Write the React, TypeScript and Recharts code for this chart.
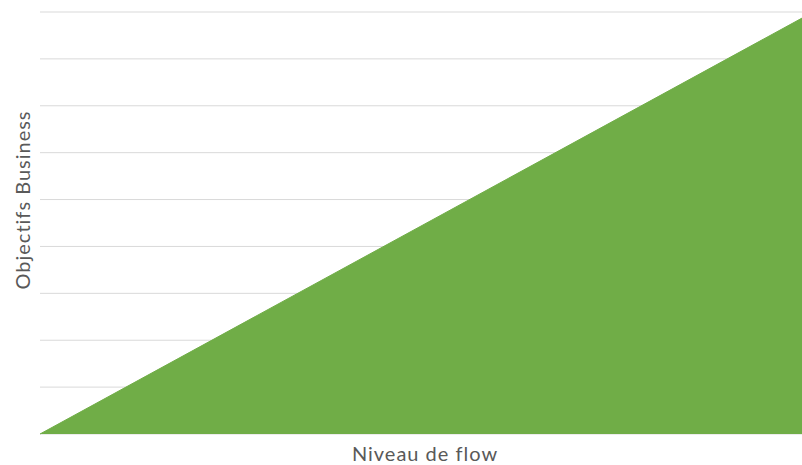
import React from "react";
import { AreaChart, Area, XAxis, YAxis, CartesianGrid } from "recharts";

const flowLevels = [0, 1];
const businessGoals = [0, 8.87];
const yTicks = [0, 1, 2, 3, 4, 5, 6, 7, 8, 9];
const xTitle = "Niveau de flow";
const yTitle = "Objectifs Business";

const data = flowLevels.map((x, i) => ({ x, y: businessGoals[i] }));

const FONT = "Lato, 'Open Sans', sans-serif";
const TEXT_COLOR = "#595959";
const FONT_SIZE = 20;
const LETTER_SPACING = 1;

const NoTick = () => <g />;

const YTitle = (props: any) => {
  const vb = props.viewBox || {};
  const cx = vb.x + 22;
  const cy = vb.y + vb.height / 2 - 23;
  return (
    <text
      x={cx}
      y={cy}
      transform={`rotate(-90, ${cx}, ${cy})`}
      textAnchor="middle"
      dominantBaseline="central"
      fill={TEXT_COLOR}
      fontFamily={FONT}
      fontSize={FONT_SIZE}
      letterSpacing={LETTER_SPACING}
    >
      {yTitle}
    </text>
  );
};

const XTitle = (props: any) => {
  const vb = props.viewBox || {};
  const cx = vb.x + vb.width / 2 + 4;
  const cy = vb.y + 19;
  return (
    <text
      x={cx}
      y={cy}
      textAnchor="middle"
      dominantBaseline="central"
      fill={TEXT_COLOR}
      fontFamily={FONT}
      fontSize={FONT_SIZE}
      letterSpacing={LETTER_SPACING}
    >
      {xTitle}
    </text>
  );
};

export default function App() {
  return (
    <div style={{ width: 802, height: 465, background: "#fff", overflow: "hidden" }}>
      <style>{`html, body { margin: 0; padding: 0; overflow: hidden; }`}</style>
      <AreaChart
        width={802}
        height={465}
        data={data}
        margin={{ top: 12, right: 0, bottom: 0, left: 0 }}
      >
        <CartesianGrid horizontal vertical={false} stroke="#d9d9d9" strokeWidth={1} />
        <XAxis
          dataKey="x"
          type="number"
          domain={[0, 1]}
          height={31}
          tick={NoTick}
          tickLine={false}
          axisLine={false}
          label={<XTitle />}
        />
        <YAxis
          domain={[0, 9]}
          ticks={yTicks}
          width={40}
          tick={NoTick}
          tickLine={false}
          axisLine={false}
          label={<YTitle />}
        />
        <Area
          type="linear"
          dataKey="y"
          fill="#70AD47"
          fillOpacity={1}
          stroke="#70AD47"
          strokeWidth={1}
          isAnimationActive={false}
        />
      </AreaChart>
    </div>
  );
}
